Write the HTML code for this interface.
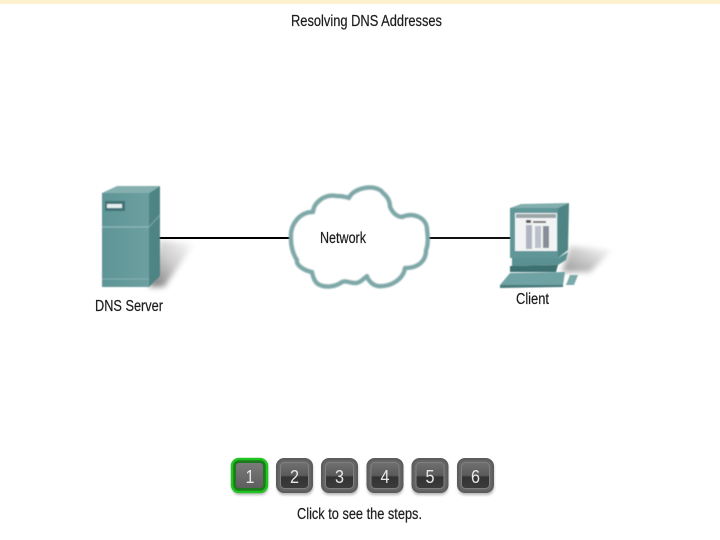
<!DOCTYPE html>
<html><head><meta charset="utf-8"><style>
html,body{margin:0;padding:0;background:#fff;width:720px;height:540px;overflow:hidden}
svg{display:block}
text{font-family:"Liberation Sans",sans-serif;fill:#1c1c1c;font-size:15.5px;stroke:#1c1c1c;stroke-width:.2px}
.n{fill:#e8e8e8;stroke:none;font-size:18px}
</style></head><body>
<svg width="720" height="540" viewBox="0 0 720 540" xmlns="http://www.w3.org/2000/svg">
<defs>
<linearGradient id="sh" x1="0" y1="1" x2="1" y2="0"><stop offset="0" stop-color="#777"/><stop offset=".5" stop-color="#ccc"/><stop offset="1" stop-color="#fff"/></linearGradient>
<linearGradient id="sh2" x1="0" y1="1" x2="1" y2="0"><stop offset="0" stop-color="#999"/><stop offset="1" stop-color="#fff"/></linearGradient>
<linearGradient id="srv" x1="0" y1="0" x2="1" y2="0"><stop offset="0" stop-color="#5f9596"/><stop offset="1" stop-color="#6c9fa0"/></linearGradient>
<linearGradient id="btn" x1="0" y1="0" x2="0" y2="1"><stop offset="0" stop-color="#707070"/><stop offset=".5" stop-color="#5a5a5a"/><stop offset=".56" stop-color="#333"/><stop offset="1" stop-color="#3c3c3c"/></linearGradient>
<linearGradient id="btn1" x1="0" y1="0" x2="0" y2="1"><stop offset="0" stop-color="#7a7a7a"/><stop offset="1" stop-color="#5e5e5e"/></linearGradient>
<filter id="b" x="-10%" y="-10%" width="120%" height="120%"><feGaussianBlur stdDeviation=".5"/></filter>
<filter id="c" x="-10%" y="-10%" width="120%" height="120%"><feGaussianBlur stdDeviation=".7"/></filter>
<filter id="b2" x="-30%" y="-30%" width="160%" height="160%"><feGaussianBlur stdDeviation="3"/></filter>
<filter id="t" x="-5%" y="-20%" width="110%" height="140%"><feGaussianBlur stdDeviation=".3"/></filter>
<filter id="ds" x="-20%" y="-20%" width="140%" height="150%"><feGaussianBlur stdDeviation="1.2"/></filter>
</defs>
<rect x="0" y="0" width="720" height="4" fill="#fdf0cf"/>
<!-- shadows -->
<polygon points="149,287 164,287 194,244 160,240" fill="url(#sh)" filter="url(#b2)"/>
<polygon points="562,272 590,272 612,250 570,246" fill="url(#sh2)" filter="url(#b2)"/>
<!-- connectors -->
<line x1="158" y1="238" x2="292" y2="238" stroke="#000" stroke-width="2"/>
<line x1="427" y1="238" x2="511" y2="238" stroke="#111" stroke-width="2"/>
<!-- server -->
<g filter="url(#b)">
<polygon points="102,193 117,186 160,186 149,193" fill="#86b0b0"/>
<polygon points="149,193 160,186 160,276 149,287" fill="#4f8485"/>
<rect x="102" y="193" width="47" height="94" fill="url(#srv)"/>
<line x1="102" y1="227" x2="149" y2="227" stroke="#8fb9b9" stroke-width="1.2"/>
<line x1="149" y1="227" x2="160" y2="215" stroke="#79a6a6" stroke-width="1"/>
<line x1="102" y1="279" x2="149" y2="279" stroke="#84b0b0" stroke-width="1"/>
<rect x="105" y="201" width="20" height="10" fill="#3f7374"/>
<rect x="107" y="204" width="15" height="4" fill="#e6efef"/>
</g>
<!-- cloud -->
<path d="M291 238 C290 224 300 212 313 212 C314 202 325 194 336 196 C342 196 346 197 349 198 C353 188 376 183 383 193 C389 198 390 203 390 207 C393 214 398 217 402 217 C414 212 427 218 427 230 C428 237 428 245 426 250 C426 262 417 268 405 268 C403 280 390 287 378 286 C372 285 368 280 367 276 C363 279 360 283 355 283 C350 283 345 280 342 282 C335 287 325 288 318 284 C314 281 313 276 312 272 C302 270 296 264 297 260 C293 254 291 246 291 238 Z" fill="#fff" stroke="#7ea8a8" stroke-width="4.5" stroke-linejoin="round" filter="url(#c)"/>
<!-- client -->
<g filter="url(#b)">
<polygon points="510,208 521,204 569,203 558,208" fill="#82aeae"/>
<polygon points="558,208 569,203 568,250 558,258" fill="#4f8485"/>
<rect x="510" y="208" width="48" height="50" fill="#5f9697"/>
<rect x="515" y="213" width="42" height="38" fill="#f2f3f4"/>
<rect x="516" y="214" width="40" height="4" fill="#9aa5a8"/>
<rect x="526" y="220" width="5" height="3" fill="#555"/>
<rect x="533" y="221" width="13" height="2" fill="#777"/>
<rect x="526" y="225" width="6" height="24" fill="#b0b4c0"/>
<rect x="535" y="226" width="6" height="22" fill="#bcc0ca"/>
<rect x="543" y="226" width="6" height="22" fill="#888d98"/>
<polygon points="512,258 558,258 568,252 566,260 558,265 512,266" fill="#5a9091"/>
<polygon points="510,266 558,265 556,272 510,272" fill="#3d6f70"/>
<polygon points="500,285 510,273 565,272 563,285" fill="#6ea2a3"/>
<polygon points="500,285 563,285 563,287 500,288" fill="#477a7b"/>
<polygon points="566,285 570,275 578,275 574,285" fill="#7ba9a9"/>
</g>
<!-- labels -->
<g filter="url(#t)">
<text x="291" y="26" textLength="151" lengthAdjust="spacingAndGlyphs">Resolving DNS Addresses</text>
<text x="95" y="311" textLength="68" lengthAdjust="spacingAndGlyphs">DNS Server</text>
<text x="320" y="243" textLength="46" lengthAdjust="spacingAndGlyphs">Network</text>
<text x="516" y="304" textLength="33" lengthAdjust="spacingAndGlyphs">Client</text>
<text x="297" y="519" textLength="125" lengthAdjust="spacingAndGlyphs">Click to see the steps.</text>
</g>
<!-- buttons -->
<g fill="#999" filter="url(#ds)" opacity=".7">
<rect x="232" y="461" width="36" height="34" rx="7"/>
<rect x="277" y="461" width="36" height="34" rx="7"/>
<rect x="322" y="461" width="36" height="34" rx="7"/>
<rect x="367" y="461" width="36" height="34" rx="7"/>
<rect x="412" y="461" width="36" height="34" rx="7"/>
<rect x="458" y="461" width="36" height="34" rx="7"/>
</g>
<g>
<rect x="232" y="459" width="35" height="33" rx="7" fill="#1d7a1d" stroke="#22c422" stroke-width="2.5"/>
<rect x="236" y="463" width="27" height="25" rx="3" fill="url(#btn1)"/>
<text class="n" x="250" y="483" text-anchor="middle" textLength="9" lengthAdjust="spacingAndGlyphs">1</text>
</g>
<g>
<rect x="277" y="459" width="35" height="33" rx="7" fill="#666" stroke="#5c5c5c" stroke-width="2"/>
<rect x="280.500" y="462.500" width="28" height="26" rx="4" fill="url(#btn)" stroke="#808080" stroke-width="1"/>
<text class="n" x="294.500" y="483" text-anchor="middle" textLength="9" lengthAdjust="spacingAndGlyphs">2</text>
</g>
<g>
<rect x="322" y="459" width="35" height="33" rx="7" fill="#666" stroke="#5c5c5c" stroke-width="2"/>
<rect x="325.500" y="462.500" width="28" height="26" rx="4" fill="url(#btn)" stroke="#808080" stroke-width="1"/>
<text class="n" x="339.500" y="483" text-anchor="middle" textLength="9" lengthAdjust="spacingAndGlyphs">3</text>
</g>
<g>
<rect x="367.500" y="459" width="35" height="33" rx="7" fill="#666" stroke="#5c5c5c" stroke-width="2"/>
<rect x="371" y="462.500" width="28" height="26" rx="4" fill="url(#btn)" stroke="#808080" stroke-width="1"/>
<text class="n" x="385" y="483" text-anchor="middle" textLength="9" lengthAdjust="spacingAndGlyphs">4</text>
</g>
<g>
<rect x="412.500" y="459" width="35" height="33" rx="7" fill="#666" stroke="#5c5c5c" stroke-width="2"/>
<rect x="416" y="462.500" width="28" height="26" rx="4" fill="url(#btn)" stroke="#808080" stroke-width="1"/>
<text class="n" x="430" y="483" text-anchor="middle" textLength="9" lengthAdjust="spacingAndGlyphs">5</text>
</g>
<g>
<rect x="458" y="459" width="35" height="33" rx="7" fill="#666" stroke="#5c5c5c" stroke-width="2"/>
<rect x="461.500" y="462.500" width="28" height="26" rx="4" fill="url(#btn)" stroke="#808080" stroke-width="1"/>
<text class="n" x="475.500" y="483" text-anchor="middle" textLength="9" lengthAdjust="spacingAndGlyphs">6</text>
</g>
</svg>
</body></html>
